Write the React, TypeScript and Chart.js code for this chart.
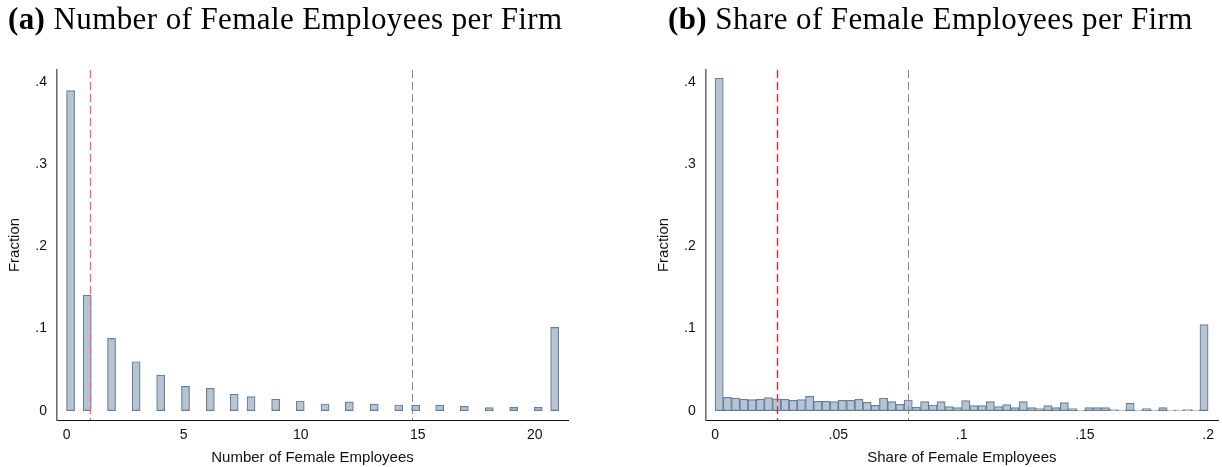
import React, { useEffect, useRef } from "react";
import { Chart, registerables } from "chart.js";

Chart.register(...registerables);

// ---- Panel (a): number of female employees per firm ----
// Histogram bins (centre of each bin) and the fraction of firms in each bin.
const EMP_BIN_CENTERS = [
  0.17, 0.88, 1.92, 2.97, 4.02, 5.08, 6.14, 7.16, 7.88, 8.93, 9.98,
  11.04, 12.08, 13.14, 14.19, 14.91, 15.94, 16.99, 18.06, 19.1, 20.15, 20.85,
];
const EMP_FRACTION = [
  0.39, 0.1407, 0.088, 0.0596, 0.0434, 0.0297, 0.0272, 0.02, 0.017, 0.0139, 0.0118,
  0.0081, 0.0106, 0.0078, 0.0069, 0.0065, 0.0065, 0.0053, 0.0036, 0.004, 0.004, 0.1014,
];
const EMP_BIN_WIDTH = 21 / 61;
const EMP_X_TICKS = [0, 5, 10, 15, 20];
const EMP_X_LABELS = ["0", "5", "10", "15", "20"];
const EMP_RED_LINE = 1;
const EMP_GRAY_LINE = 14.77;

// ---- Panel (b): share of female employees per firm ----
const SHARE_BIN_WIDTH = 0.2 / 60;
const SHARE_FRACTION = [
  0.405, 0.0163, 0.0151, 0.0138, 0.0134, 0.0138, 0.0159, 0.0143, 0.0138, 0.0126,
  0.0134, 0.0175, 0.0114, 0.0114, 0.011, 0.0126, 0.0126, 0.0138, 0.0102, 0.0065,
  0.0151, 0.011, 0.0077, 0.013, 0.0041, 0.011, 0.0069, 0.011, 0.0049, 0.0037,
  0.0122, 0.0061, 0.0061, 0.011, 0.0049, 0.0073, 0.0037, 0.011, 0.0037, 0.0024,
  0.0061, 0.0037, 0.0098, 0.0024, 0.0008, 0.0037, 0.0037, 0.0037, 0.0012, 0.0008,
  0.009, 0.0008, 0.0024, 0.0008, 0.0037, 0.0008, 0.0008, 0.0012, 0.0008, 0.1047,
];
const SHARE_BIN_CENTERS = SHARE_FRACTION.map((_, i) => (i + 0.5) * SHARE_BIN_WIDTH);
const SHARE_X_TICKS = [0, 0.05, 0.1, 0.15, 0.2];
const SHARE_X_LABELS = ["0", ".05", ".1", ".15", ".2"];
const SHARE_RED_LINE = 0.025;
const SHARE_GRAY_LINE = 0.0784;

// ---- Shared y axis ----
const Y_TICKS = [0, 0.1, 0.2, 0.3, 0.4];
const Y_TICK_LABELS = ["0", ".1", ".2", ".3", ".4"];

const SANS = '"Liberation Sans", Arial, sans-serif';
const SERIF = '"Liberation Serif", "Times New Roman", serif';

type PanelProps = {
  left: number;
  centers: number[];
  values: number[];
  binWidth: number;
  xMin: number;
  xMax: number;
  xTicks: number[];
  xLabels: string[];
  xTitle: string;
  redLine: number;
  grayLine: number;
  redColor: string;
  padLeft: number;
  padRight: number;
};

const W = 611;
const H = 467;

function Panel(p: PanelProps) {
  const ref = useRef<HTMLCanvasElement | null>(null);

  useEffect(() => {
    if (!ref.current) return;

    // dashed vertical reference lines across the plot area
    const refLines = {
      id: "refLines",
      afterDatasetsDraw(chart: any) {
        const { ctx, chartArea, scales } = chart;
        const draw = (v: number, color: string, width: number) => {
          const x = Math.round(scales.x.getPixelForValue(v)) + 0.5;
          ctx.save();
          ctx.strokeStyle = color;
          ctx.lineWidth = width;
          ctx.setLineDash([8, 4]);
          ctx.beginPath();
          ctx.moveTo(x, chartArea.top);
          ctx.lineTo(x, chartArea.bottom);
          ctx.stroke();
          ctx.restore();
        };
        draw(p.grayLine, "#8a8a8a", 1);
        draw(p.redLine, p.redColor, 1.3);
      },
    };

    const chart = new Chart(ref.current, {
      type: "bar",
      data: {
        datasets: [
          {
            data: p.centers.map((x, i) => ({ x, y: p.values[i] })),
            backgroundColor: "#b8c4d2",
            borderColor: "#62809f",
            borderWidth: 1.2,
            borderSkipped: false,
            barThickness: (ctx: any) => {
              const s = ctx.chart.scales.x;
              if (!s || !isFinite(s.getPixelForValue(p.binWidth))) return 8;
              return Math.abs(s.getPixelForValue(p.binWidth) - s.getPixelForValue(0));
            },
          } as any,
        ],
      },
      options: {
        animation: false,
        responsive: false,
        devicePixelRatio: 1,
        layout: { padding: { left: p.padLeft, right: p.padRight, top: 70, bottom: 0 } },
        plugins: { legend: { display: false }, tooltip: { enabled: false } },
        scales: {
          x: {
            type: "linear",
            offset: false,
            min: p.xMin,
            max: p.xMax,
            grid: { display: false, drawTicks: false, offset: false },
            border: { display: true, color: "#111", width: 1 },
            afterBuildTicks: (s: any) => {
              s.ticks = p.xTicks.map((v) => ({ value: v }));
            },
            afterFit: (s: any) => {
              s.height = 47;
            },
            ticks: {
              padding: 7,
              color: "#111",
              font: { family: SANS, size: 14 },
              maxRotation: 0,
              autoSkip: false,
              callback: (v: any) => {
                const i = p.xTicks.findIndex((t) => Math.abs(t - Number(v)) < 1e-9);
                return i >= 0 ? p.xLabels[i] : "";
              },
            },
            title: {
              display: true,
              text: p.xTitle,
              color: "#111",
              font: { family: SANS, size: 15 },
              padding: { top: 2, bottom: 0 },
            },
          },
          y: {
            type: "linear",
            min: -0.0114,
            max: 0.415,
            grid: { display: false, drawTicks: false },
            border: { display: true, color: "#707070", width: 1.6 },
            afterBuildTicks: (s: any) => {
              s.ticks = Y_TICKS.map((v) => ({ value: v }));
            },
            afterFit: (s: any) => {
              s.width = 57;
            },
            ticks: {
              padding: 10,
              color: "#111",
              font: { family: SANS, size: 14 },
              callback: (v: any) => {
                const i = Y_TICKS.findIndex((t) => Math.abs(t - Number(v)) < 1e-9);
                return i >= 0 ? Y_TICK_LABELS[i] : "";
              },
            },
            title: {
              display: true,
              text: "Fraction",
              color: "#111",
              font: { family: SANS, size: 15 },
              padding: { top: 6, bottom: 0 },
            },
          },
        },
      },
      plugins: [refLines],
    } as any);

    return () => chart.destroy();
  }, []);

  return (
    <canvas
      ref={ref}
      width={W}
      height={H}
      style={{ position: "absolute", left: p.left, top: 0, width: W, height: H }}
    />
  );
}

const titleStyle: React.CSSProperties = {
  position: "absolute",
  top: 3,
  fontFamily: SERIF,
  fontSize: 31,
  lineHeight: "31px",
  letterSpacing: "0.4px",
  whiteSpace: "nowrap",
  color: "#000",
};

export default function App() {
  return (
    <div
      style={{
        position: "fixed",
        left: 0,
        top: 0,
        width: 1222,
        height: 467,
        background: "#fff",
        overflow: "hidden",
      }}
    >
      <Panel
        left={0}
        centers={EMP_BIN_CENTERS}
        values={EMP_FRACTION}
        binWidth={EMP_BIN_WIDTH}
        xMin={-0.41}
        xMax={21.42}
        xTicks={EMP_X_TICKS}
        xLabels={EMP_X_LABELS}
        xTitle="Number of Female Employees"
        redLine={EMP_RED_LINE}
        grayLine={EMP_GRAY_LINE}
        redColor="#f56565"
        padLeft={0}
        padRight={43}
      />
      <Panel
        left={611}
        centers={SHARE_BIN_CENTERS}
        values={SHARE_FRACTION}
        binWidth={SHARE_BIN_WIDTH}
        xMin={-0.0038}
        xMax={0.204}
        xTicks={SHARE_X_TICKS}
        xLabels={SHARE_X_LABELS}
        xTitle="Share of Female Employees"
        redLine={SHARE_RED_LINE}
        grayLine={SHARE_GRAY_LINE}
        redColor="#ff1a1a"
        padLeft={37.7}
        padRight={4}
      />
      <div style={{ ...titleStyle, left: 8 }}>
        <b>(a)</b> Number of Female Employees per Firm
      </div>
      <div style={{ ...titleStyle, left: 668 }}>
        <b>(b)</b> Share of Female Employees per Firm
      </div>
    </div>
  );
}
